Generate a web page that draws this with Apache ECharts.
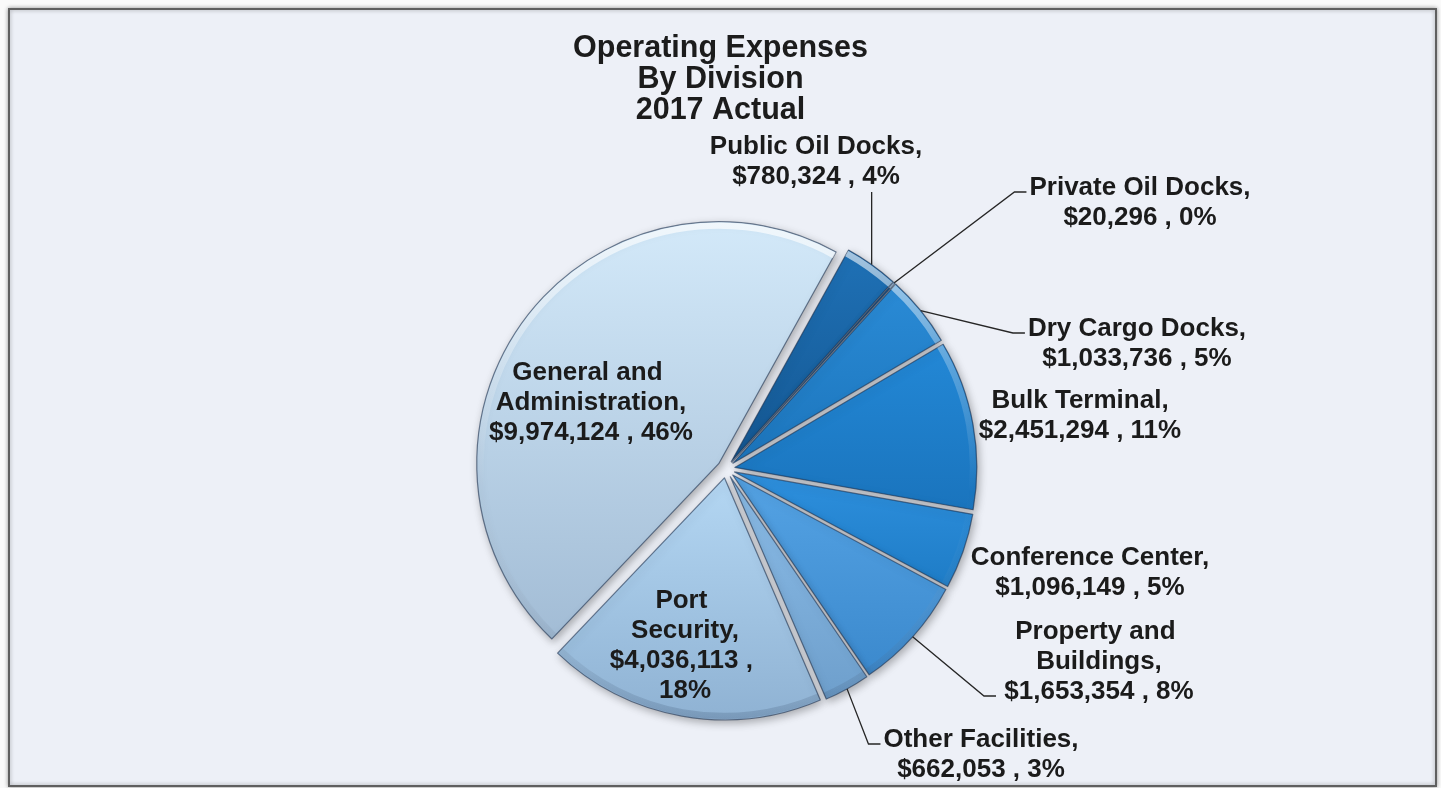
<!DOCTYPE html>
<html>
<head>
<meta charset="utf-8">
<title>Operating Expenses By Division 2017 Actual</title>
<script src="https://cdn.jsdelivr.net/npm/echarts@6/dist/echarts.min.js"></script>
<style>
  html, body { margin: 0; padding: 0; background: #fafafa; }
  #chart { width: 1441px; height: 788px; }
</style>
</head>
<body>
<div id="chart"></div>
<script>
// ---- data -------------------------------------------------------------
const divisions = [
  'Public Oil Docks',
  'Private Oil Docks',
  'Dry Cargo Docks',
  'Bulk Terminal',
  'Conference Center',
  'Property and Buildings',
  'Other Facilities',
  'Port Security',
  'General and Administration'
];
const expenses = [780324, 20296, 1033736, 2451294, 1096149, 1653354, 662053, 4036113, 9974124];
const titleLines = ['Operating Expenses', 'By Division', '2017 Actual'];

// ---- styling ----------------------------------------------------------
const FONT = "'Liberation Sans', Arial, Helvetica, sans-serif";
const LABEL_SIZE = 26;
const LINE_H = 30;

// slice fills, lighter at the top and deeper at the bottom
const sliceShades = [
  ['#1f71b6', '#145792'],
  ['#1f70b4', '#155a96'],
  ['#2a8bd6', '#1c75bc'],
  ['#2388d6', '#1a74bd'],
  ['#2e90de', '#1e7cc6'],
  ['#55a3e4', '#3b89cd'],
  ['#8cbde8', '#6e9fcc'],
  ['#b4d7f3', '#8fb2d3'],
  ['#d3e9f9', '#a2bcd5']
];

// pie geometry (pixels) and the explode distance of every slice
const PIE = { cx: 726, cy: 469, r: 242, explode: 9, startAngle: 61 };

// label block centres and the way each leader line runs
const labelPlacement = {
  'Public Oil Docks':          { x: 816,  y: 162, line: 'up' },
  'Private Oil Docks':         { x: 1140, y: 203, line: 'firstLine' },
  'Dry Cargo Docks':           { x: 1137, y: 344, line: 'firstLine' },
  'Bulk Terminal':             { x: 1080, y: 416 },
  'Conference Center':         { x: 1090, y: 573 },
  'Property and Buildings':    { x: 1099, y: 662, width: 200, line: 'lastLine' },
  'Other Facilities':          { x: 981,  y: 755, line: 'firstLine' },
  'Port Security':             { x: 685,  y: 646, width: 155, inside: true },
  'General and Administration':{ x: 591,  y: 403, width: 215, inside: true }
};

// ---- geometry helpers -------------------------------------------------
const total = expenses.reduce((a, b) => a + b, 0);
let running = 0;
// mid angle of every slice, measured clockwise from 12 o'clock
const midAngles = expenses.map(v => {
  const start = running;
  running += v;
  return (90 - PIE.startAngle) + (start + v / 2) / total * 360;
});
function rimPoint(i) {
  const t = midAngles[i] * Math.PI / 180;
  const d = PIE.r + PIE.explode;
  return [PIE.cx + d * Math.sin(t), PIE.cy - d * Math.cos(t)];
}

// ---- series data ------------------------------------------------------
// exploded, shaded slices
const sliceData = divisions.map((name, i) => ({
  name: name,
  value: expenses[i],
  selected: true,
  itemStyle: {
    color: {
      type: 'linear', x: 0, y: 0, x2: 0, y2: 1,
      colorStops: [
        { offset: 0, color: sliceShades[i][0] },
        { offset: 1, color: sliceShades[i][1] }
      ]
    }
  }
}));

// rim shading of the same exploded slices (light from above)
const rimData = divisions.map((name, i) => ({
  name: name,
  value: expenses[i],
  selected: true
}));

// same slices again, unfilled, carrying the data labels and leader lines
const labelData = divisions.map((name, i) => {
  const place = labelPlacement[name];
  return {
    name: name,
    value: expenses[i],
    label: {
      position: place.inside ? 'inside' : 'outside',
      width: place.width,
      overflow: place.width ? 'break' : 'none'
    },
    labelLine: { show: !!place.line }
  };
});

const chart = echarts.init(document.getElementById('chart'), null, { renderer: 'canvas' });

chart.setOption({
  animation: false,
  backgroundColor: '#fafafa',
  graphic: [{
    type: 'rect',
    silent: true,
    z: -10,
    shape: { x: 9, y: 9, width: 1427, height: 777 },
    style: {
      fill: '#edf0f7',
      stroke: '#5f5f5f',
      lineWidth: 2,
      shadowBlur: 4,
      shadowColor: 'rgba(0,0,0,0.35)'
    }
  }],
  title: {
    text: titleLines.join('\n'),
    left: 'center',
    top: 33,
    padding: [0, 0, 0, 9],
    textStyle: {
      fontFamily: FONT,
      fontSize: 30.5,
      fontWeight: 'bold',
      lineHeight: 31,
      color: '#1c1c1c'
    }
  },
  series: [{
    type: 'pie',
    name: 'slices',
    center: [PIE.cx, PIE.cy],
    radius: PIE.r,
    startAngle: PIE.startAngle,
    clockwise: true,
    selectedMode: 'multiple',
    selectedOffset: PIE.explode,
    emphasis: { disabled: true },
    label: { show: false },
    labelLine: { show: false },
    itemStyle: {
      borderColor: 'rgba(28,48,78,0.6)',
      borderWidth: 1.2,
      shadowBlur: 8,
      shadowOffsetX: 2,
      shadowOffsetY: 3,
      shadowColor: 'rgba(0,0,0,0.3)'
    },
    data: sliceData
  }, {
    type: 'pie',
    name: 'rim',
    silent: true,
    z: 2,
    center: [PIE.cx, PIE.cy],
    radius: [PIE.r - 7, PIE.r - 0.8],
    startAngle: PIE.startAngle,
    clockwise: true,
    selectedMode: 'multiple',
    selectedOffset: PIE.explode,
    emphasis: { disabled: true },
    label: { show: false },
    labelLine: { show: false },
    itemStyle: {
      borderWidth: 0,
      color: {
        type: 'linear', global: true,
        x: 0, y: PIE.cy - PIE.r, x2: 0, y2: PIE.cy + PIE.r,
        colorStops: [
          { offset: 0, color: 'rgba(255,255,255,0.7)' },
          { offset: 0.3, color: 'rgba(255,255,255,0.25)' },
          { offset: 0.55, color: 'rgba(255,255,255,0)' },
          { offset: 1, color: 'rgba(10,30,60,0.16)' }
        ]
      }
    },
    data: rimData
  }, {
    type: 'pie',
    name: 'labels',
    silent: true,
    z: 3,
    center: [PIE.cx, PIE.cy],
    radius: PIE.r,
    startAngle: PIE.startAngle,
    clockwise: true,
    percentPrecision: 0,
    avoidLabelOverlap: false,
    emphasis: { disabled: true },
    itemStyle: { color: 'rgba(0,0,0,0)', borderWidth: 0 },
    label: {
      fontFamily: FONT,
      fontSize: LABEL_SIZE,
      fontWeight: 'bold',
      lineHeight: LINE_H,
      color: '#1b1b1b',
      align: 'center',
      formatter: p => p.name + ',\n$' + p.value.toLocaleString('en-US') + ' , ' + p.percent + '%'
    },
    labelLine: {
      lineStyle: { color: '#262626', width: 1.3 }
    },
    labelLayout: function (params) {
      const place = labelPlacement[divisions[params.dataIndex]];
      const w = params.labelRect.width;
      const h = params.labelRect.height;
      const left = place.x - w / 2;
      const top = place.y - h / 2;
      const out = { x: place.x, y: place.y, align: 'center', verticalAlign: 'middle' };
      if (place.line) {
        const s = rimPoint(params.dataIndex);
        let pts;
        if (place.line === 'up') {
          pts = [s, [s[0], top + h]];
        } else {
          const ly = place.line === 'firstLine'
            ? top + LINE_H / 2 + 4
            : top + h - LINE_H / 2 + 4;
          pts = [s, [left - 15, ly], [left - 3, ly]];
        }
        out.labelLinePoints = pts;
      }
      return out;
    },
    data: labelData
  }]
});
</script>
</body>
</html>
